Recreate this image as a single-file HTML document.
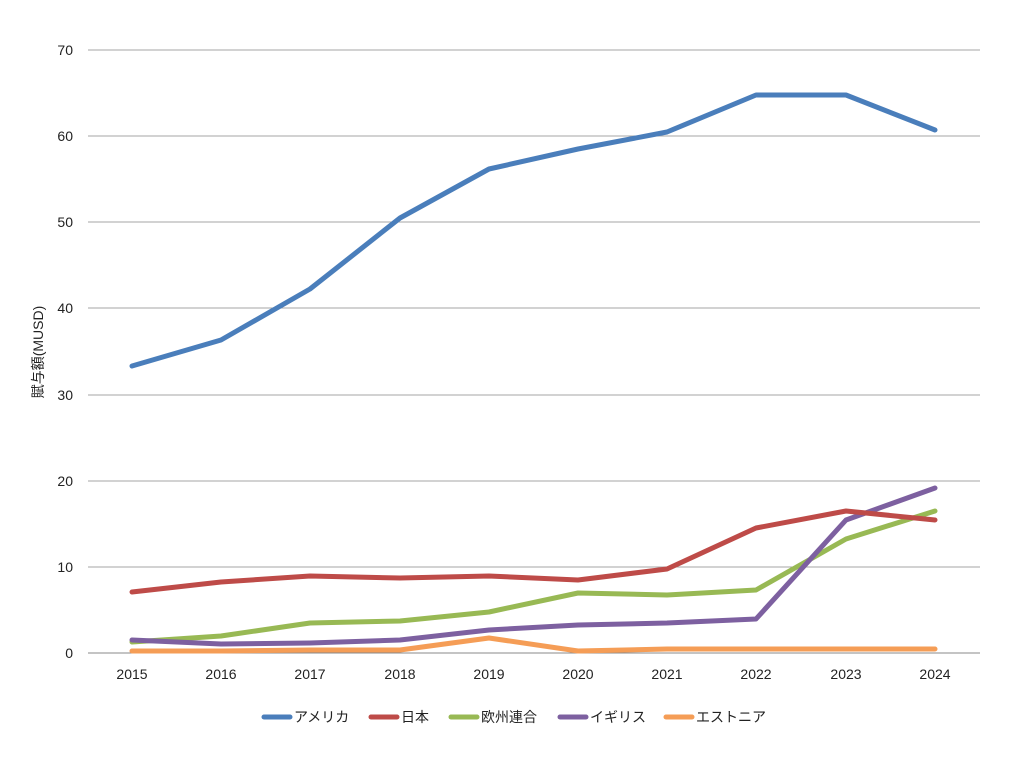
<!DOCTYPE html>
<html><head><meta charset="utf-8"><style>
body{margin:0;background:#fff}
text{font-family:"Liberation Sans","Noto Sans CJK JP",sans-serif;fill:#222;font-size:14px}
</style></head><body>
<svg width="1024" height="768" viewBox="0 0 1024 768">
<g stroke="#a6a6a6" stroke-width="1">
<line x1="88" y1="50" x2="980" y2="50"/><line x1="88" y1="136" x2="980" y2="136"/>
<line x1="88" y1="222" x2="980" y2="222"/><line x1="88" y1="308" x2="980" y2="308"/>
<line x1="88" y1="395" x2="980" y2="395"/><line x1="88" y1="481" x2="980" y2="481"/>
<line x1="88" y1="567" x2="980" y2="567"/>
</g>
<line x1="88" y1="653" x2="980" y2="653" stroke="#888" stroke-width="1"/>
<g text-anchor="end">
<text x="73" y="55">70</text><text x="73" y="141">60</text><text x="73" y="227">50</text>
<text x="73" y="313">40</text><text x="73" y="400">30</text><text x="73" y="486">20</text>
<text x="73" y="572">10</text><text x="73" y="658">0</text>
</g>
<g text-anchor="middle">
<text x="132" y="679">2015</text><text x="221" y="679">2016</text><text x="310" y="679">2017</text>
<text x="400" y="679">2018</text><text x="489" y="679">2019</text><text x="578" y="679">2020</text>
<text x="667" y="679">2021</text><text x="756" y="679">2022</text><text x="846" y="679">2023</text>
<text x="935" y="679">2024</text>
</g>
<text transform="translate(43,352) rotate(-90)" text-anchor="middle">賦与額(MUSD)</text>
<g fill="none" stroke-width="5" stroke-linejoin="round" stroke-linecap="round">
<polyline stroke="#f59d56" points="132,651 221,651 310,650 400,650 489,638 578,651 667,649 756,649 846,649 935,649"/>
<polyline stroke="#98b954" points="132,642 221,636 310,623 400,621 489,612 578,593 667,595 756,590 846,539 935,511"/>
<polyline stroke="#7d60a0" points="132,640 221,644 310,643 400,640 489,630 578,625 667,623 756,619 846,520 935,488"/>
<polyline stroke="#be4b48" points="132,592 221,582 310,576 400,578 489,576 578,580 667,569 756,528 846,511 935,520"/>
<polyline stroke="#4a7ebb" points="132,366 221,340 310,289 400,218 489,169 578,149 667,132 756,95 846,95 935,130"/>
</g>
<g stroke-width="5" stroke-linecap="round">
<line x1="264" y1="717" x2="290" y2="717" stroke="#4a7ebb"/>
<line x1="371" y1="717" x2="397" y2="717" stroke="#be4b48"/>
<line x1="451" y1="717" x2="477" y2="717" stroke="#98b954"/>
<line x1="560" y1="717" x2="586" y2="717" stroke="#7d60a0"/>
<line x1="666" y1="717" x2="692" y2="717" stroke="#f59d56"/>
</g>
<text x="294" y="722">アメリカ</text>
<text x="401" y="722">日本</text>
<text x="481" y="722">欧州連合</text>
<text x="590" y="722">イギリス</text>
<text x="696" y="722">エストニア</text>
</svg>
</body></html>
